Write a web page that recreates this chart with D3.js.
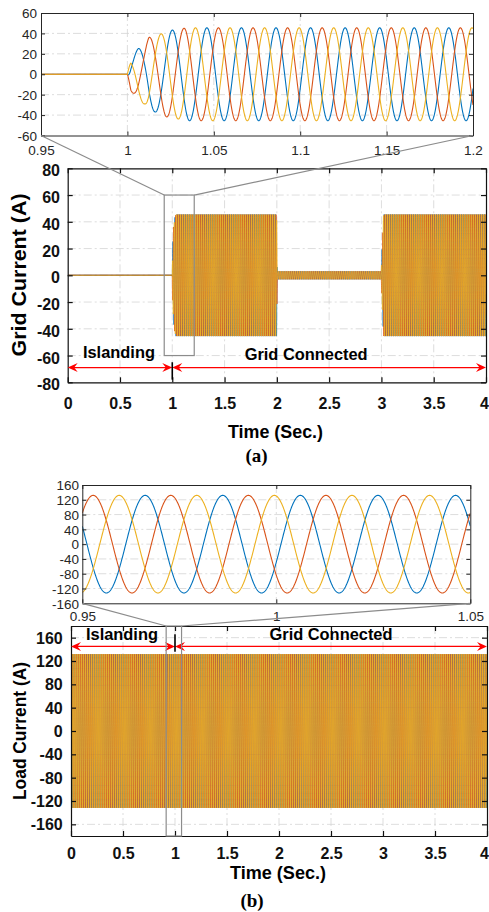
<!DOCTYPE html>
<html>
<head>
<meta charset="utf-8">
<script src="https://cdn.jsdelivr.net/npm/d3@7"></script>
<style>
  body { margin: 0; background: #fff; }
  svg { display: block; }
</style>
</head>
<body>
<svg id="fig" width="489" height="912"></svg>
<script>
// values
const mainTimeTicks = [0, 0.5, 1, 1.5, 2, 2.5, 3, 3.5, 4];
const gridTicks = [-80, -60, -40, -20, 0, 20, 40, 60, 80];
const loadTicks = [-160, -120, -80, -40, 0, 40, 80, 120, 160];
const gridZoomTimeTicks = [0.95, 1, 1.05, 1.1, 1.15, 1.2];
const gridZoomTicks = [-60, -40, -20, 0, 20, 40, 60];
const loadZoomTimeTicks = [0.95, 1, 1.05];
const loadZoomTicks = [-160, -120, -80, -40, 0, 40, 80, 120, 160];

const modeBounds = [0, 1, 4]; // islanding 0-1 s, grid connected 1-4 s
const modeLabels = ["Islanding", "Grid Connected"];

const phaseColors = ["#0072bd", "#d95319", "#edb120"]; // a, b, c
const lineFreq = 50; // Hz
// time of a positive peak of each phase (s)
const gridPeakTimes = [1.046, 1.0327, 1.0394];
const loadPeakTimes = [0.9662, 0.9528, 0.9595];
// peak amplitude envelope (time s -> A)
const gridEnvTime = [0, 1.0, 1.002, 1.0065, 1.01, 1.0125, 1.016, 1.02, 1.0225, 1.026, 1.03, 1.034, 1.998, 2.004, 2.998, 3.02, 4];
const gridEnvAmp = [0, 0, 16, 25.6, 29.5, 36.2, 36.9, 40, 41.7, 43.3, 44, 45.5, 45.5, 3, 3, 45.5, 45.5];
const loadEnvTime = [0, 4];
const loadEnvAmp = [132, 132];

const W = 489;
const svg = d3.select("#fig");
const sans = "'Liberation Sans', Arial, sans-serif";
const serif = "'Liberation Serif', 'Times New Roman', serif";

function makePanel(name, box, xDomain, yDomain, xGrid, yGrid) {
  const x = d3.scaleLinear().domain(xDomain).range([box.l, box.r]);
  const y = d3.scaleLinear().domain(yDomain).range([box.b, box.t]);
  const g = svg.append("g").attr("class", name);
  svg.append("clipPath").attr("id", "clip-" + name).append("rect")
    .attr("x", box.l).attr("y", box.t)
    .attr("width", box.r - box.l).attr("height", box.b - box.t);

  const grid = g.append("g").attr("stroke", "#d4d4d4").attr("stroke-width", 0.8)
    .attr("stroke-dasharray", "8,3,2,3");
  grid.selectAll(".vx").data(xGrid).join("line").attr("class", "vx")
    .attr("x1", d => x(d)).attr("x2", d => x(d)).attr("y1", box.t).attr("y2", box.b);
  grid.selectAll(".hy").data(yGrid).join("line").attr("class", "hy")
    .attr("x1", box.l).attr("x2", box.r).attr("y1", d => y(d)).attr("y2", d => y(d));

  const plot = g.append("g").attr("clip-path", `url(#clip-${name})`);
  return { x, y, g, plot, box };
}

function drawAxes(p, xTicks, yTicks, o) {
  const { x, y, g, box } = p;
  const axes = g.append("g").attr("color", o.color);
  const styleText = sel => sel.selectAll("text")
    .attr("font-family", sans).attr("font-size", o.fontSize)
    .attr("font-weight", o.bold ? "bold" : "normal").attr("fill", o.color);

  const bottom = axes.append("g").attr("transform", `translate(0,${box.b})`)
    .call(d3.axisBottom(x).tickValues(xTicks).tickFormat(d => d)
      .tickSizeInner(-o.tick).tickSizeOuter(0).tickPadding(o.xPad))
    .call(styleText);
  // last label sits on the figure edge: keep it inside
  if (o.lastEnd) {
    bottom.selectAll(".tick").filter(d => d === xTicks[xTicks.length - 1]).select("text")
      .attr("text-anchor", "end").attr("x", W - 0.5 - box.r);
  }
  axes.append("g").attr("transform", `translate(0,${box.t})`)
    .call(d3.axisTop(x).tickValues(xTicks).tickFormat(() => "")
      .tickSizeInner(-o.tick).tickSizeOuter(0));
  axes.append("g").attr("transform", `translate(${box.l},0)`)
    .call(d3.axisLeft(y).tickValues(yTicks).tickFormat(d => d)
      .tickSizeInner(-o.tick).tickSizeOuter(0).tickPadding(o.yPad))
    .call(styleText)
    .call(sel => sel.selectAll("text").attr("dy", o.yDy));
  axes.append("g").attr("transform", `translate(${box.r},0)`)
    .call(d3.axisRight(y).tickValues(yTicks).tickFormat(() => "")
      .tickSizeInner(-o.tick).tickSizeOuter(0));
  axes.selectAll(".domain").attr("stroke-width", o.lw);
  axes.selectAll(".tick line").attr("stroke-width", o.lw);
}

function drawPhases(p, peaks, envTime, envAmp, t0, t1, dt, width) {
  const env = d3.scaleLinear().domain(envTime).range(envAmp).clamp(true);
  const n = Math.round((t1 - t0) / dt);
  const times = d3.range(n + 1).map(i => t0 + i * dt);
  const line = d3.line().x(d => p.x(d[0])).y(d => p.y(d[1]));
  peaks.forEach((pk, i) => {
    const pts = times.map(t => [t, env(t) * Math.cos(2 * Math.PI * lineFreq * (t - pk))]);
    p.plot.append("path").attr("d", line(pts))
      .attr("fill", "none").attr("stroke", phaseColors[i])
      .attr("stroke-width", width).attr("stroke-linejoin", "round");
  });
}

function arrowHead(g, tx, ty, dir) {
  g.append("path")
    .attr("d", `M${tx},${ty} L${tx - dir * 10},${ty - 4.5} L${tx - dir * 6.5},${ty} L${tx - dir * 10},${ty + 4.5} Z`)
    .attr("fill", "#ff0000");
}

function drawModes(p, yArrow, tickTop, tickBot, labelPos, fs, lengths) {
  const { x, y, g } = p;
  const a = g.append("g");
  const yy = y(yArrow);
  d3.pairs(modeBounds).forEach(([t0, t1]) => {
    a.append("line").attr("x1", x(t0) + 3).attr("x2", x(t1) - 3)
      .attr("y1", yy).attr("y2", yy).attr("stroke", "#ff0000").attr("stroke-width", 1.3);
    arrowHead(a, x(t0), yy, -1);
    arrowHead(a, x(t1), yy, 1);
  });
  a.append("line").attr("x1", x(modeBounds[1])).attr("x2", x(modeBounds[1]))
    .attr("y1", y(tickTop)).attr("y2", y(tickBot))
    .attr("stroke", "#000").attr("stroke-width", 1.6);
  modeLabels.forEach((lbl, i) => {
    a.append("text").attr("x", x(labelPos[i][0])).attr("y", y(labelPos[i][1]))
      .attr("text-anchor", "middle").attr("font-family", sans)
      .attr("font-weight", "bold").attr("font-size", fs)
      .attr("textLength", lengths[i]).attr("lengthAdjust", "spacingAndGlyphs")
      .text(lbl);
  });
}

function zoomFrame(main, inset, t0, t1, v0, v1) {
  const { x, y } = main;
  const g = svg.append("g").attr("fill", "none").attr("stroke", "#8c8c8c").attr("stroke-width", 1.2);
  g.append("rect").attr("x", x(t0)).attr("y", y(v1))
    .attr("width", x(t1) - x(t0)).attr("height", y(v0) - y(v1));
  g.append("line").attr("x1", x(t0)).attr("y1", y(v1))
    .attr("x2", inset.box.l).attr("y2", inset.box.b);
  g.append("line").attr("x1", x(t1)).attr("y1", y(v1))
    .attr("x2", inset.box.r).attr("y2", inset.box.b);
}

function axisTitles(xTitle, yTitle) {
  svg.append("text").attr("x", xTitle.x).attr("y", xTitle.y)
    .attr("text-anchor", "middle").attr("font-family", sans).attr("font-weight", "bold")
    .attr("font-size", xTitle.fs).attr("textLength", xTitle.len).attr("lengthAdjust", "spacingAndGlyphs")
    .text(xTitle.text);
  svg.append("text").attr("transform", `translate(${yTitle.x},${yTitle.y}) rotate(-90)`)
    .attr("text-anchor", "middle").attr("font-family", sans).attr("font-weight", "bold")
    .attr("font-size", yTitle.fs).attr("textLength", yTitle.len).attr("lengthAdjust", "spacingAndGlyphs")
    .text(yTitle.text);
}

function caption(txt, cx, by) {
  svg.append("text").attr("x", cx).attr("y", by).attr("text-anchor", "middle")
    .attr("font-family", serif).attr("font-weight", "bold").attr("font-size", 19)
    .text(txt);
}

// ---------- (a) grid current ----------
const gridZoom = makePanel("gridZoom", { l: 41, r: 473, t: 13, b: 135.5 }, [0.95, 1.2], [-60, 60],
  gridZoomTimeTicks.slice(1, -1), gridZoomTicks.slice(1, -1));
drawPhases(gridZoom, gridPeakTimes, gridEnvTime, gridEnvAmp, 0.95, 1.2, 0.0002, 1.1);
drawAxes(gridZoom, gridZoomTimeTicks, gridZoomTicks,
  { tick: 4, xPad: 9.5, yPad: 4, fontSize: 13.5, bold: false, color: "#262626", yDy: "0.35em", lw: 1 });

const gridMain = makePanel("gridMain", { l: 67.7, r: 486, t: 168.3, b: 382.3 }, [0, 4], [-80, 80],
  mainTimeTicks.slice(1, -1), gridTicks.slice(1, -1));
drawPhases(gridMain, gridPeakTimes, gridEnvTime, gridEnvAmp, 0, 4, 0.0005, 0.8);
drawAxes(gridMain, mainTimeTicks, gridTicks,
  { tick: 5, xPad: 15, yPad: 7.7, fontSize: 16, bold: true, color: "#111", yDy: "0.48em", lw: 1.2, lastEnd: true });
drawModes(gridMain, -69, -65, -78, [[0.49, -61.5], [2.28, -63.5]], 17, [72, 123]);
zoomFrame(gridMain, gridZoom, 0.923, 1.21, -60, 60);
axisTitles({ text: "Time (Sec.)", x: 275.5, y: 438, fs: 19, len: 95 },
  { text: "Grid Current (A)", x: 26, y: 275, fs: 21, len: 163 });
caption("(a)", 256.5, 462);

// ---------- (b) load current ----------
const loadZoom = makePanel("loadZoom", { l: 82.3, r: 470.3, t: 485, b: 603.3 }, [0.95, 1.05], [-160, 160],
  loadZoomTimeTicks.slice(1, -1), loadZoomTicks.slice(1, -1));
drawPhases(loadZoom, loadPeakTimes, loadEnvTime, loadEnvAmp, 0.95, 1.05, 0.0001, 1.1);
drawAxes(loadZoom, loadZoomTimeTicks, loadZoomTicks,
  { tick: 4, xPad: 7.7, yPad: 3.3, fontSize: 13.5, bold: false, color: "#262626", yDy: "0.35em", lw: 1 });

const loadMain = makePanel("loadMain", { l: 71, r: 487, t: 626, b: 836 }, [0, 4], [-180, 180],
  mainTimeTicks.slice(1, -1), loadTicks);
drawPhases(loadMain, loadPeakTimes, loadEnvTime, loadEnvAmp, 0, 4, 0.0005, 0.8);
drawAxes(loadMain, mainTimeTicks, loadTicks,
  { tick: 5, xPad: 12, yPad: 8.3, fontSize: 16, bold: true, color: "#111", yDy: "0.35em", lw: 1.2, lastEnd: true });
drawModes(loadMain, 145, 166, 136, [[0.49, 156], [2.5, 156]], 17, [72, 123]);
zoomFrame(loadMain, loadZoom, 0.915, 1.063, -180, 180);
axisTitles({ text: "Time (Sec.)", x: 278, y: 879, fs: 19, len: 96 },
  { text: "Load Current (A)", x: 26, y: 731, fs: 18.5, len: 138 });
caption("(b)", 252, 907);
</script>
</body>
</html>
